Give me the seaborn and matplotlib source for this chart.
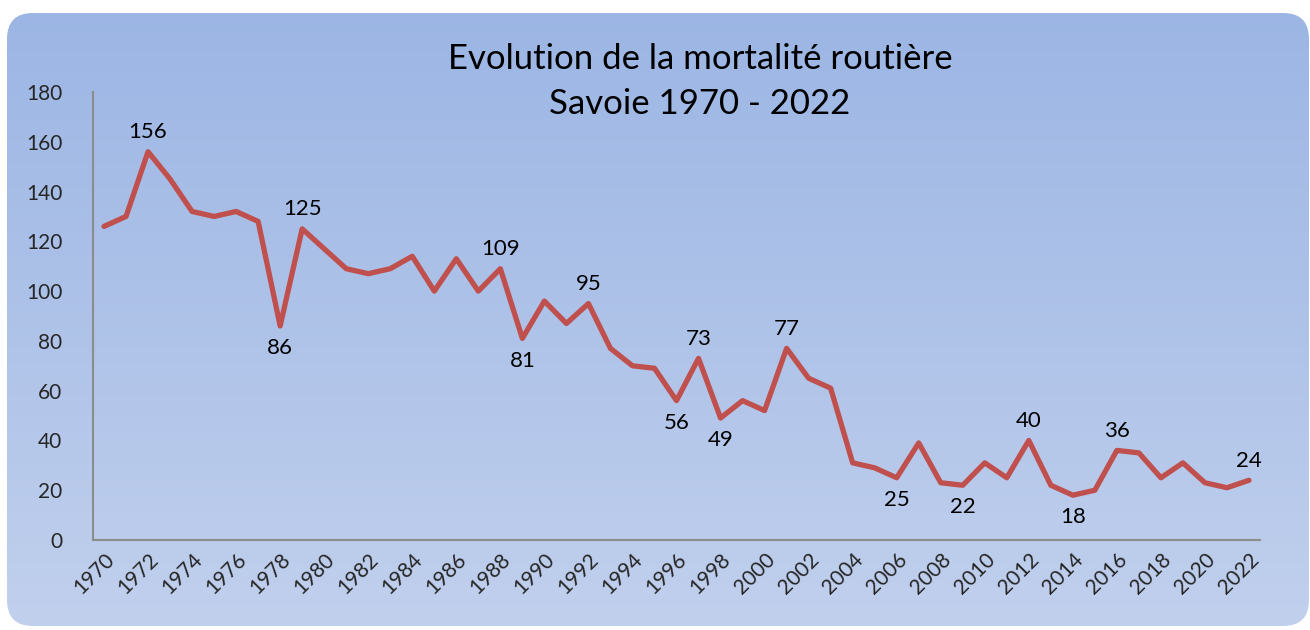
import numpy as np
import pandas as pd
import matplotlib.pyplot as plt
from matplotlib.patches import FancyBboxPatch
import seaborn as sns

# Road deaths in Savoie, 1970-2022
years = list(range(1970, 2023))
deaths = [126, 130, 156, 145, 132, 130, 132, 128, 86, 125,
          117, 109, 107, 109, 114, 100, 113, 100, 109, 81,
          96, 87, 95, 77, 70, 69, 56, 73, 49, 56,
          52, 77, 65, 61, 31, 29, 25, 39, 23, 22,
          31, 25, 40, 22, 18, 20, 36, 35, 25, 31,
          23, 21, 24]

# which points get a label, and whether it sits above or below the line
labels_above = [1972, 1979, 1988, 1992, 1997, 2001, 2012, 2016, 2022]
labels_below = [1978, 1989, 1996, 1998, 2006, 2009, 2014]

title_lines = ['Evolution de la mortalité routière', 'Savoie 1970 - 2022']

df = pd.DataFrame({'annee': years, 'tues': deaths})

sns.set_theme(style='white')
plt.rcParams['font.family'] = ['Lato', 'DejaVu Sans']

fig = plt.figure(figsize=(13.1, 6.3), dpi=100)
fig.patch.set_facecolor('white')

# rounded gradient background
bg = fig.add_axes([0, 0, 1, 1], zorder=0)
bg.set_xlim(0, 1310)
bg.set_ylim(630, 0)
bg.axis('off')
grad = np.linspace(0, 1, 256).reshape(-1, 1)
top = np.array([155, 181, 228]) / 255
bottom = np.array([193, 208, 237]) / 255
img = top + grad[..., None] * (bottom - top)
im = bg.imshow(img, extent=[0, 1310, 630, 0], aspect='auto')
box = FancyBboxPatch((7, 13), 1302, 613, boxstyle='round,pad=0,rounding_size=26',
                     transform=bg.transData, facecolor='none', edgecolor='none')
bg.add_patch(box)
im.set_clip_path(box)

ax = fig.add_axes([93 / 1310, 1 - 540 / 630, (1260 - 93) / 1310, (540 - 92) / 630], zorder=1)
ax.patch.set_alpha(0)

sns.lineplot(data=df, x='annee', y='tues', ax=ax, color='#c0504d', linewidth=3.8)

for yr, val in zip(years, deaths):
    if yr in labels_above:
        ax.annotate(str(val), (yr, val), xytext=(0, 14), textcoords='offset points',
                    ha='center', va='center', fontsize=16, color='black')
    elif yr in labels_below:
        ax.annotate(str(val), (yr, val), xytext=(0, -16), textcoords='offset points',
                    ha='center', va='center', fontsize=16, color='black')

ax.set_xlim(1969.5, 2022.5)
ax.set_ylim(0, 180)
ax.set_yticks(range(0, 181, 20))
ax.set_xticks(years[::2])
ax.set_xticklabels([str(y) for y in years[::2]], rotation=45, ha='right',
                   rotation_mode='anchor', fontsize=15)
ax.tick_params(axis='y', labelsize=15, pad=22, length=0)
ax.tick_params(axis='x', length=0, pad=7)
ax.set_xlabel('')
ax.set_ylabel('')

for side in ['top', 'right']:
    ax.spines[side].set_visible(False)
for side in ['left', 'bottom']:
    ax.spines[side].set_color('#8c8c8c')
    ax.spines[side].set_linewidth(1.5)

# two-line title
fig.text(700 / 1310, 1 - 59 / 630, title_lines[0], ha='center', va='center',
         fontsize=25, color='black')
fig.text(700 / 1310, 1 - 104 / 630, title_lines[1], ha='center', va='center',
         fontsize=25, color='black')

fig.savefig('out.png', dpi=100, facecolor='white')
